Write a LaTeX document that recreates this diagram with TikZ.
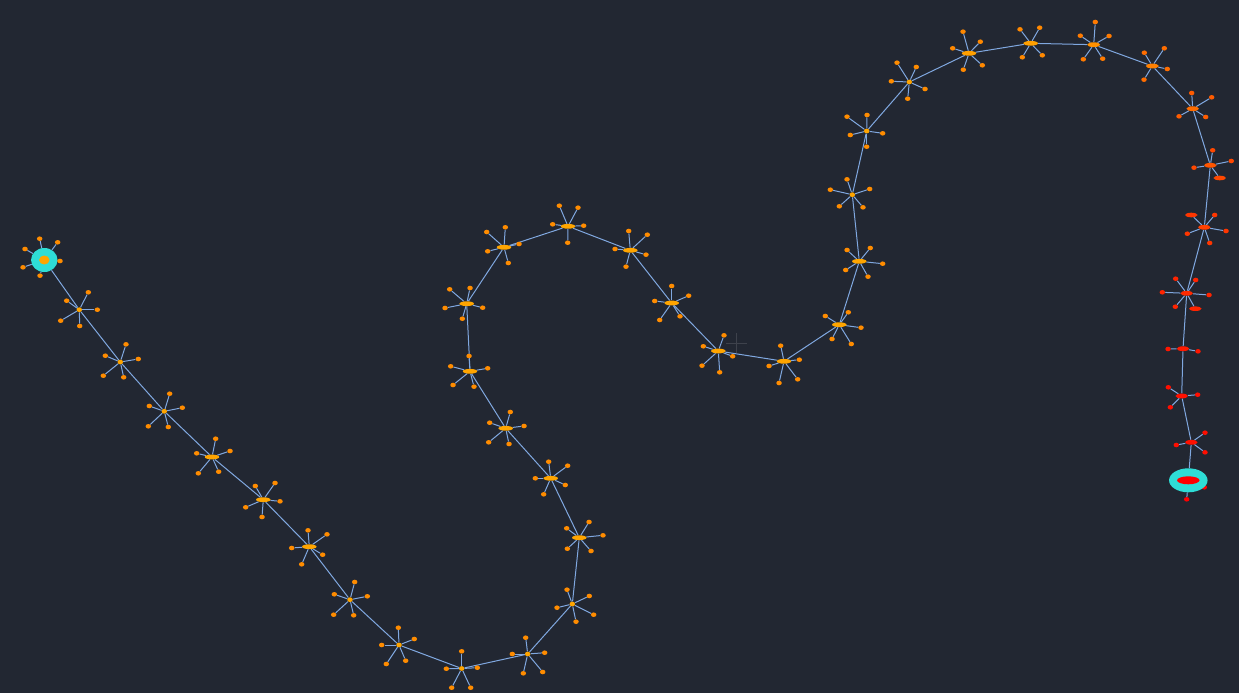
\documentclass[tikz,border=0pt]{standalone}
\usetikzlibrary{shapes.geometric}
\pgfdeclarelayer{bg}
\pgfsetlayers{bg,main}
\definecolor{bgc}{RGB}{34,39,50}
\definecolor{edgec}{HTML}{80A8E0}
\definecolor{cyanc}{HTML}{2EDDD6}
\definecolor{crossc}{RGB}{62,66,76}
\definecolor{oA}{HTML}{FFA500}
\definecolor{oB}{HTML}{FFA000}
\definecolor{oC}{HTML}{FF9000}
\definecolor{oD}{HTML}{FF8000}
\definecolor{oE}{HTML}{FF6C00}
\definecolor{oF}{HTML}{FF5500}
\definecolor{oG}{HTML}{FF4000}
\definecolor{oH}{HTML}{FF2A00}
\definecolor{oI}{HTML}{FF1A00}
\definecolor{oJ}{HTML}{FF1000}
\definecolor{rE}{HTML}{FF0000}
\tikzset{
  hubst/.style={ellipse, inner sep=0pt, minimum height=4.8pt, draw=none},
  leafst/.style={ellipse, inner sep=0pt, minimum height=4.6pt, draw=none},
  spoke/.style={draw=edgec, line width=1pt},
  link/.style={draw=edgec, line width=1pt},
  cyanst/.style={ellipse, inner sep=0pt, fill=cyanc, draw=none},
}
\newcommand{\mkhub}[6]{%
  \node[hubst, minimum width=#4pt, fill=#5] (#1) at (#2,#3) {};
  \foreach \lx/\ly/\lw [count=\li] in {#6} {
    \node[leafst, minimum width=\lw pt, fill=#5!85!red] (#1-\li) at (\lx,\ly) {};
    \begin{pgfonlayer}{bg}\draw[spoke] (#1) -- (#1-\li);\end{pgfonlayer}
  }%
}
\begin{document}
\begin{tikzpicture}[x=1pt,y=-1pt]
\begin{pgfonlayer}{bg}
\fill[bgc] (0,0) rectangle (1239,693);
\draw[crossc, line width=0.8pt] (726,343.3) -- (747,343.3) (736.7,333) -- (736.7,353);
\end{pgfonlayer}
\useasboundingbox (0,0) rectangle (1239,693);
% start node
\node[cyanst, minimum width=26.5pt, minimum height=24pt] (h1) at (44.3,260) {};
\node[ellipse, inner sep=0pt, minimum width=10.5pt, minimum height=9pt, fill=oA] (h1c) at (44.3,260) {};
\foreach \lx/\ly [count=\li] in {39.7/238.7, 57.7/242.3, 25/249, 60/261, 23/267.3, 40/275.7} {
  \node[leafst, minimum width=5.5pt, fill=oA!85!red] (h1-\li) at (\lx,\ly) {};
  \begin{pgfonlayer}{bg}\draw[spoke] (h1) -- (h1-\li);\end{pgfonlayer}
}
\mkhub{h2}{79.3}{309.7}{5.5}{oA}{88.3/292.3/5.5, 66.7/300.7/5.5, 97.3/309.7/5.5, 60.7/320.7/5.5, 79.7/326/5.5}
\mkhub{h3}{120.3}{362}{5.5}{oA}{126/344.3/5.5, 105.3/355.7/5.5, 138.3/359/5.5, 103.3/375.7/5.5, 123.7/377.3/5.5}
\mkhub{h4}{164.3}{411.3}{5.5}{oA}{169.7/393.7/5.5, 149.3/406/5.5, 182.3/407.7/5.5, 148.3/426.3/5.5, 168.3/427/5.5}
\mkhub{h5}{212}{457}{14.5}{oA}{215.7/438.7/5.5, 196.7/453.3/5.5, 230/451/5.5, 198.3/473.3/5.5, 218.7/471.7/5.5}
\mkhub{h6}{263.3}{499.7}{14.5}{oA}{275/483/5.5, 255.3/486/5.5, 280/501.3/5.5, 245.7/507.3/5.5, 262/517/5.5}
\mkhub{h7}{309.3}{546.7}{14.5}{oA}{308/530.3/5.5, 327/534.3/5.5, 291.7/548/5.5, 322.7/554.7/5.5, 301.7/564.3/5.5}
\mkhub{h8}{350}{599.7}{5.5}{oA}{354.7/582/5.5, 334.3/594.3/5.5, 367.3/596.3/5.5, 333.7/614.7/5.5, 353.7/615.3/5.5}
\mkhub{h9}{399}{645}{5.5}{oA}{398.3/627.7/5.5, 414.3/639/5.5, 381.7/645/5.5, 386.3/664/5.5, 405.7/660.7/5.5}
\mkhub{h10}{461.7}{668.5}{5.5}{oA}{461.7/651.3/5.5, 446.3/668.7/5.5, 477.3/667.7/5.5, 451.7/687.7/5.5, 470.7/687.7/5.5}
\mkhub{h11}{527.7}{654}{5.5}{oA}{525.7/637.7/5.5, 512.3/654/5.5, 544.7/652.7/5.5, 523.3/673.3/5.5, 542.7/672/5.5}
\mkhub{h12}{572.3}{604}{5.5}{oA}{567/589.7/5.5, 589.3/596/5.5, 557/607.7/5.5, 593.7/614.7/5.5, 576/621.7/5.5}
\mkhub{h13}{579.3}{537.7}{14.5}{oA}{589/522/5.5, 566.7/528.3/5.5, 603/535.3/5.5, 567.3/548.7/5.5, 591/551/5.5}
\mkhub{h14}{550.7}{478.3}{14.5}{oA}{548.7/461.7/5.5, 567.7/465.7/5.5, 535.3/478.3/5.5, 565.3/485/5.5, 543.7/494.3/5.5}
\mkhub{h15}{505.7}{428.3}{14.5}{oA}{510.3/412/5.5, 489.7/422.7/5.5, 524/426/5.5, 488.7/442.3/5.5, 509/444/5.5}
\mkhub{h16}{470}{371.3}{14.5}{oA}{469/356/5.5, 450.7/366.3/5.5, 487.7/368.3/5.5, 453/385/5.5, 474/386.7/5.5}
\mkhub{h17}{466.7}{303.7}{14.5}{oA}{449.7/289.3/5.5, 470/288/5.5, 445/308/5.5, 482.7/307.7/5.5, 462.3/318.7/5.5}
\mkhub{h18}{504}{247.3}{14.5}{oA}{505.3/227.3/5.5, 486.7/232/5.5, 519/244/5.5, 487.7/251.3/5.5, 508.3/263/5.5}
\mkhub{h19}{568}{226.3}{14.5}{oA}{559.3/205.7/5.5, 578/207.7/5.5, 552.7/224.3/5.5, 583.7/225.7/5.5, 567.7/242.7/5.5}
\mkhub{h20}{630.3}{250.3}{14.5}{oA}{628.7/231/5.5, 647.3/234.7/5.5, 615/249/5.5, 646/254.7/5.5, 626/266.7/5.5}
\mkhub{h21}{671.7}{303}{14.5}{oA}{671.7/286/5.5, 688.7/295.7/5.5, 654.7/301/5.5, 680/316.3/5.5, 659.7/320/5.5}
\mkhub{h22}{718.3}{351}{14.5}{oA}{724/335.3/5.5, 703.3/346.3/5.5, 732.7/356.3/5.5, 702/365.7/5.5, 719.7/372.3/5.5}
\mkhub{h23}{784}{361.3}{14.5}{oA}{780.7/345.7/5.5, 799.3/359.7/5.5, 769/366/5.5, 797.7/379.3/5.5, 779/383/5.5}
\mkhub{h24}{839.3}{324.7}{14.5}{oA}{825.3/316/5.5, 848.3/312.3/5.5, 861/327.7/5.5, 832/339/5.5, 851.3/344/5.5}
\mkhub{h25}{859.3}{261.3}{14.5}{oA}{847/250/5.5, 870.3/248/5.5, 882.7/263.7/5.5, 845.7/270/5.5, 868/276.7/5.5}
\mkhub{h26}{852.3}{194.7}{5.5}{oA}{847/179.3/5.5, 830.3/189.7/5.5, 869.7/189/5.5, 839.3/206.3/5.5, 863/207.3/5.5}
\mkhub{h27}{866.7}{131}{5.5}{oA}{847/116.7/5.5, 867/115/5.5, 850.3/135/5.5, 882.7/133.3/5.5, 866.7/146.7/5.5}
\mkhub{h28}{909.3}{82}{5.5}{oA}{897/62.7/5.5, 916.3/67/5.5, 891.3/81.3/5.5, 925/89/5.5, 907.7/98.7/5.5}
\mkhub{h29}{969}{53.3}{14.5}{oB}{963/31.7/5.5, 980.3/41.7/5.5, 952.7/48.3/5.5, 982.3/65.3/5.5, 963.3/69.7/5.5}
\mkhub{h30}{1030.7}{43.3}{14.5}{oB}{1020/29.3/5.5, 1039.7/27.7/5.5, 1022.3/57.3/5.5, 1042.3/55.3/5.5}
\mkhub{h31}{1093.7}{44.7}{13}{oC}{1095.3/22/5.5, 1080.3/35.7/5.5, 1109/36/5.5, 1083.3/59.3/5.5, 1102.7/58.7/5.5}
\mkhub{h32}{1152.3}{66}{13}{oD}{1144.3/52.7/5.5, 1164.3/48.3/5.5, 1167.3/69/5.5, 1144/79.7/5.5}
\mkhub{h33}{1192.7}{108.7}{12.5}{oE}{1191.7/93/5.5, 1211.7/97.3/5.5, 1179/116.3/5.5, 1205.7/117/5.5}
\mkhub{h34}{1210.3}{165.3}{12.5}{oF}{1212.7/150.3/5.5, 1231.3/161/5.5, 1194/167.7/5.5, 1219.7/178/12.5}
\mkhub{h35}{1204.3}{227.3}{12.5}{oG}{1191.3/215/12.5, 1214.7/215/5.5, 1187.3/233.7/5.5, 1226/231/5.5, 1209.7/243/5.5}
\mkhub{h36}{1186.7}{293.3}{12.5}{oH}{1175.7/278.7/5.5, 1195.7/280/5.5, 1162.3/292.3/5.5, 1209/295/5.5, 1175.3/306.7/5.5, 1195.3/308.7/12.5}
\mkhub{h37}{1183}{348.7}{12.5}{oI}{1168/349/5.5, 1198/351.3/5.5}
\mkhub{h38}{1181.7}{396}{12.5}{oJ}{1168.3/387.3/5.5, 1197.7/394.7/5.5, 1170.3/407.3/5.5}
\mkhub{h39}{1191.3}{442.3}{12.5}{oJ}{1205/432.7/5.5, 1176.3/445/5.5, 1205/452.3/5.5}
% end node: leaves first, then the ring on top
\node[leafst, minimum width=5.5pt, fill=rE] (h40-1) at (1186.7,499.3) {};
\node[leafst, minimum width=5.5pt, fill=rE] (h40-2) at (1204.3,487.3) {};
\node[cyanst, minimum width=38.5pt, minimum height=24pt] (h40) at (1188.3,480.3) {};
\node[ellipse, inner sep=0pt, minimum width=22.5pt, minimum height=8pt, fill=rE] (h40c) at (1188.3,480.3) {};
\begin{pgfonlayer}{bg}
\draw[spoke] (h40) -- (h40-1);
\draw[spoke] (h40) -- (h40-2);
\foreach \i [evaluate=\i as \j using int(\i+1)] in {1,...,39} {
  \draw[link] (h\i) -- (h\j);
}
\end{pgfonlayer}
\end{tikzpicture}
\end{document}
